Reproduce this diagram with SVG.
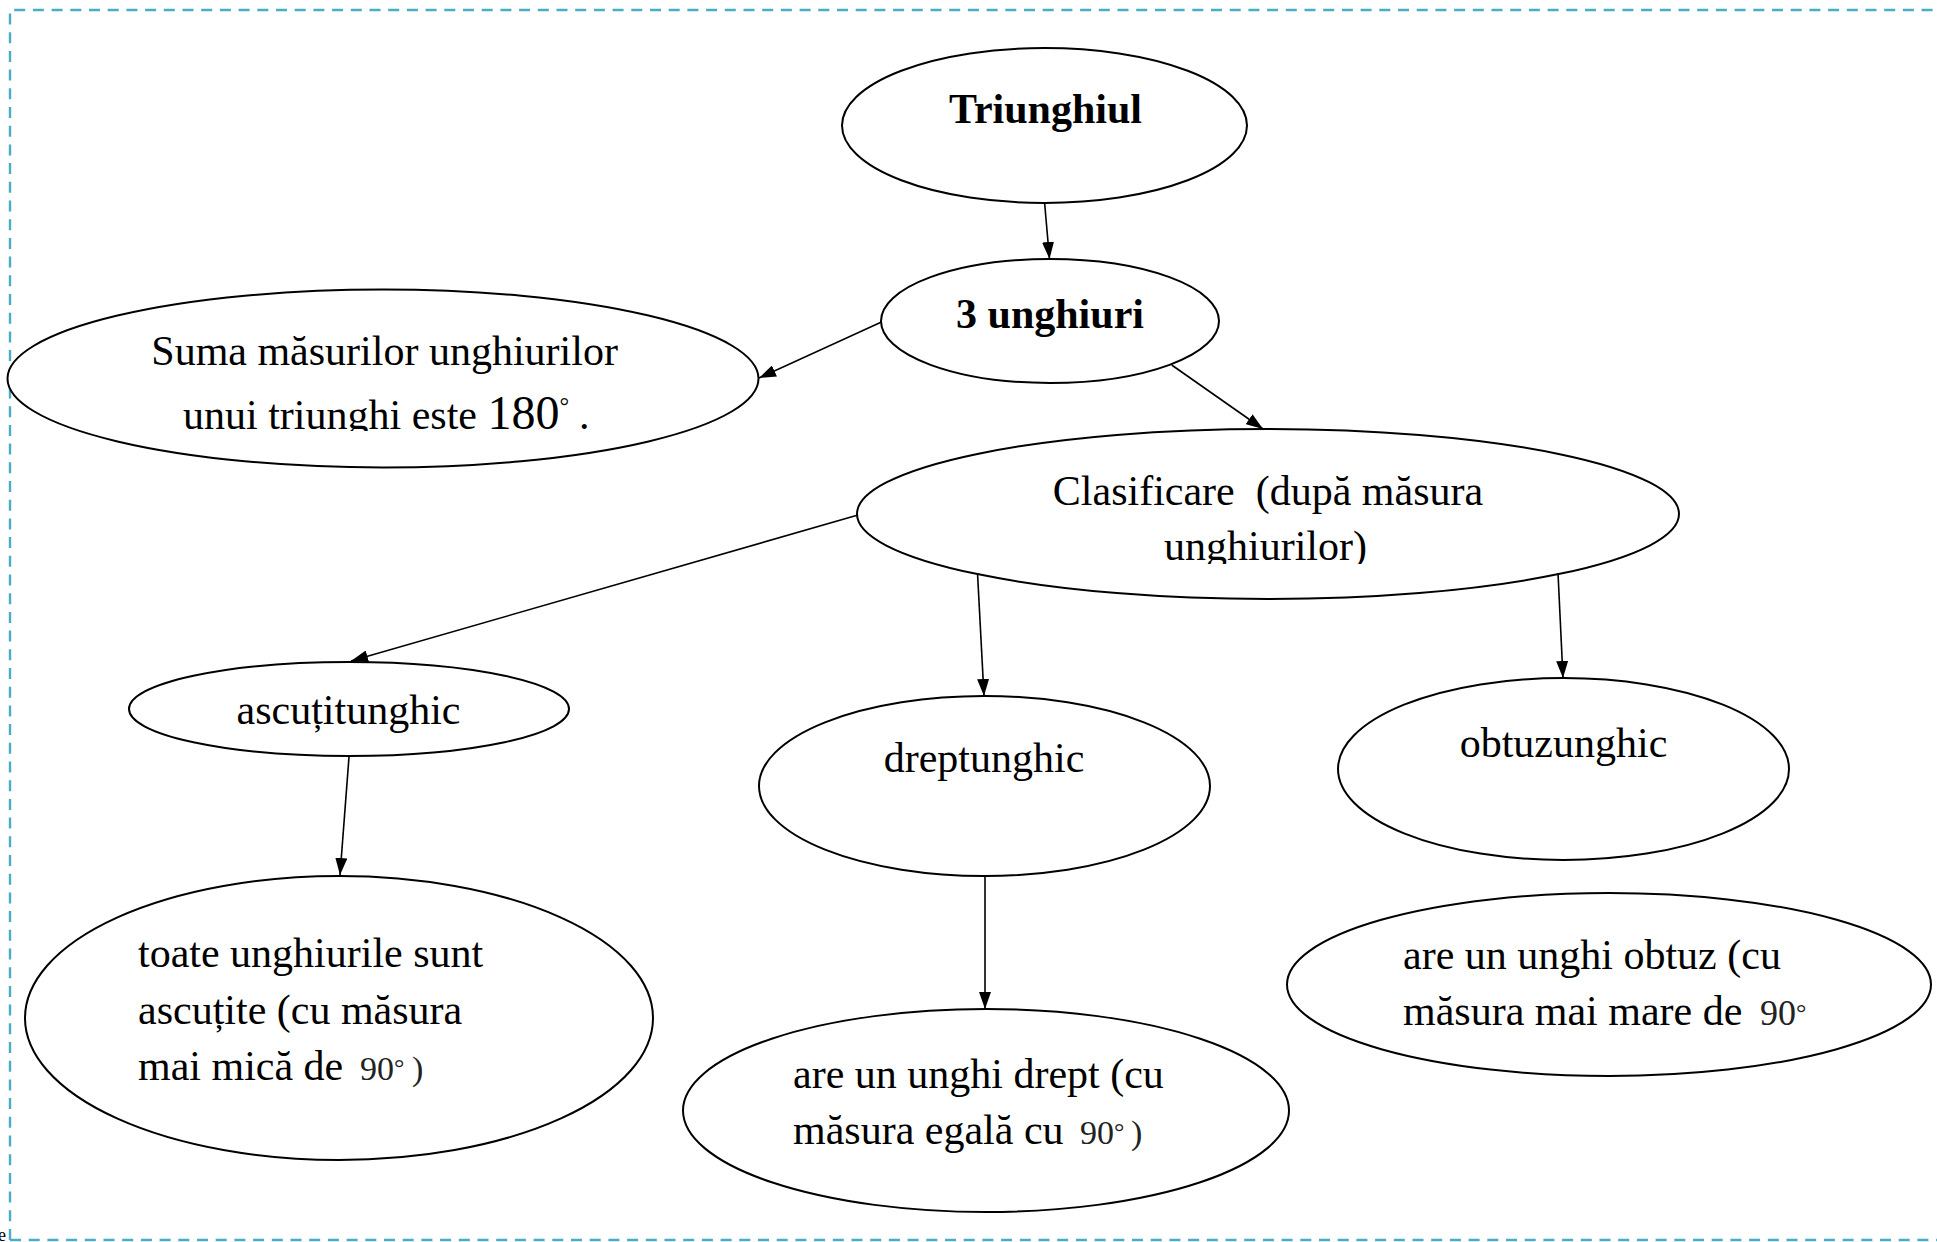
<svg xmlns="http://www.w3.org/2000/svg" width="1937" height="1242" viewBox="0 0 1937 1242">
<style>
.node ellipse{fill:#fff;stroke:#000;stroke-width:2}
.t{font-family:"Liberation Serif","Times New Roman",serif;font-size:42px;fill:#000}
.b{font-weight:bold}
.m{text-anchor:middle}
.sm{font-size:34px;fill:#222}
.deg{font-size:26px;fill:#222}
.conn line{stroke:#000;stroke-width:1.6;fill:none}
.border{fill:none;stroke:#4BACC6;stroke-width:2.4;stroke-dasharray:11 7.7}
</style>
<defs>
<marker id="ah" viewBox="0 0 17 12" refX="17" refY="6" markerWidth="17" markerHeight="12" markerUnits="userSpaceOnUse" orient="auto">
<path d="M0,0 L17,6 L0,12 z" fill="#000"/>
</marker>
<clipPath id="clipSuma"><rect x="0" y="300" width="800" height="131"/></clipPath>
<clipPath id="clipClas"><rect x="860" y="440" width="820" height="124"/></clipPath>
</defs>
<rect x="0" y="0" width="1937" height="1242" fill="#fff"/>
<path class="border" d="M10,1240 V10 H1937 M10,1240 H1937"/>
<text class="t" x="-2" y="1241" style="font-size:18px">e</text>

<g id="n-triunghiul" class="node">
<ellipse cx="1044.5" cy="125.5" rx="202.5" ry="77.5"/>
<text class="t b m" x="1045.5" y="123">Triunghiul</text>
</g>
<g id="n-3unghiuri" class="node">
<ellipse cx="1050" cy="321" rx="169" ry="62"/>
<text class="t b m" x="1050" y="327.5">3 unghiuri</text>
</g>
<g id="n-suma" class="node">
<ellipse cx="383" cy="378.5" rx="375.5" ry="89"/>
<g clip-path="url(#clipSuma)">
<text class="t m" x="384.6" y="365">Suma măsurilor unghiurilor</text>
<text class="t" x="183" y="429">unui triunghi este <tspan style="font-size:48px">180</tspan><tspan style="font-size:24px" dy="-15">°</tspan><tspan dy="15" x="579">.</tspan></text>
</g>
</g>
<g id="n-clasificare" class="node">
<ellipse cx="1268" cy="514" rx="411" ry="85"/>
<g clip-path="url(#clipClas)">
<text class="t m" x="1268" y="505" style="white-space:pre" xml:space="preserve">Clasificare  (după măsura</text>
<text class="t m" x="1265.5" y="560">unghiurilor)</text>
</g>
</g>
<g id="n-ascutitunghic" class="node">
<ellipse cx="349" cy="709" rx="220" ry="47"/>
<text class="t m" x="348.5" y="724">ascuțitunghic</text>
</g>
<g id="n-dreptunghic" class="node">
<ellipse cx="984.5" cy="786" rx="225.5" ry="90"/>
<text class="t m" x="984" y="772">dreptunghic</text>
</g>
<g id="n-obtuzunghic" class="node">
<ellipse cx="1563.5" cy="769" rx="225.5" ry="91"/>
<text class="t m" x="1563.5" y="757">obtuzunghic</text>
</g>
<g id="n-ascutite" class="node">
<ellipse cx="339" cy="1018" rx="314" ry="142"/>
<text class="t" x="138" y="967">toate unghiurile sunt</text>
<text class="t" x="138" y="1024">ascuțite (cu măsura</text>
<text class="t" x="138" y="1080">mai mică de <tspan class="sm" x="360">90</tspan><tspan class="deg" dy="-4">°</tspan><tspan class="sm" dy="4" x="412">)</tspan></text>
</g>
<g id="n-drept" class="node">
<ellipse cx="986" cy="1110.5" rx="303" ry="101.5"/>
<text class="t" x="793" y="1088">are un unghi drept (cu</text>
<text class="t" x="793" y="1144">măsura egală cu <tspan class="sm" x="1080">90</tspan><tspan class="deg" dy="-4">°</tspan><tspan class="sm" dy="4" x="1131">)</tspan></text>
</g>
<g id="n-obtuz" class="node">
<ellipse cx="1609" cy="984.5" rx="322" ry="91.5"/>
<text class="t" x="1403" y="969">are un unghi obtuz (cu</text>
<text class="t" x="1403" y="1025">măsura mai mare de <tspan class="sm" x="1760" style="font-size:36px">90</tspan><tspan class="deg" dy="-4">°</tspan></text>
</g>

<g id="connectors" class="conn">
<line x1="1044.7" y1="204" x2="1049.5" y2="259" marker-end="url(#ah)"/>
<line x1="881.5" y1="322" x2="759" y2="378" marker-end="url(#ah)"/>
<line x1="1171.7" y1="365" x2="1263" y2="429" marker-end="url(#ah)"/>
<line x1="858" y1="515" x2="351" y2="661" marker-end="url(#ah)"/>
<line x1="349" y1="757" x2="340" y2="875" marker-end="url(#ah)"/>
<line x1="977.5" y1="573" x2="984" y2="696" marker-end="url(#ah)"/>
<line x1="1558" y1="573" x2="1563" y2="678" marker-end="url(#ah)"/>
<line x1="985" y1="876" x2="985" y2="1009" marker-end="url(#ah)"/>
</g>
</svg>
